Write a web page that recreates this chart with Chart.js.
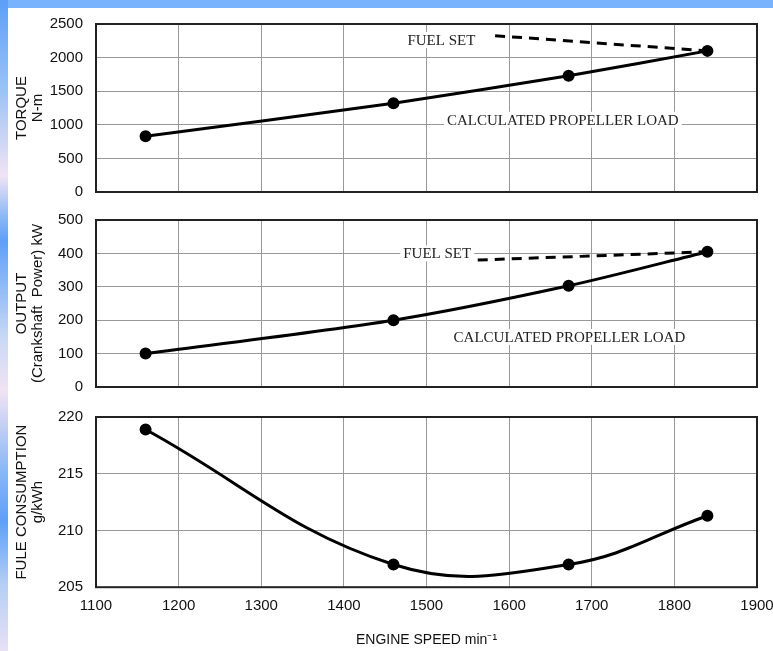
<!DOCTYPE html>
<html>
<head>
<meta charset="utf-8">
<script src="https://cdn.jsdelivr.net/npm/chart.js@4.4.1/dist/chart.umd.min.js"></script>
<style>
  body { margin: 0; width: 773px; height: 651px; overflow: hidden; background: #fff; position: relative; }
  #topbar { position: absolute; left: 0; top: 0; width: 773px; height: 8px; background: #7ab3fd; }
  #sidebar { position: absolute; left: 0; top: 0; width: 8px; height: 651px;
    background: linear-gradient(to bottom, #5d9ef9 0%, #9cc3f6 14%, #f1e3f4 27%, #8fbaf6 33%, #5f9ff9 37%, #c9d9f4 52%, #f1e3f4 60%, #8cb8f6 72%, #5f9ff9 80%, #b6cff4 90%, #e8e1f4 100%); }
  canvas { position: absolute; left: 0; }
</style>
</head>
<body>
<div id="topbar"></div>
<div id="sidebar"></div>
<canvas id="torqueChart" width="773" height="188" style="top:14px"></canvas>
<canvas id="outputChart" width="773" height="187" style="top:210px"></canvas>
<canvas id="fuelChart" width="773" height="244" style="top:407px"></canvas>
<script>
// engine speed (min-1) at the measured points
const speeds = [1160, 1460, 1672, 1840];
const torque = [830, 1320, 1730, 2100];
const output = [100, 200, 303, 405];
const fuelRate = [218.9, 207.0, 207.0, 211.3];

// "fuel set" dashed lines
const torqueFuelSpeeds = [1583, 1840];
const torqueFuelSet = [2326, 2100];
const outputFuelSpeeds = [1562, 1840];
const outputFuelSet = [380, 405];

const speedTicks = [1100, 1200, 1300, 1400, 1500, 1600, 1700, 1800, 1900];
const torqueTicks = [0, 500, 1000, 1500, 2000, 2500];
const outputTicks = [0, 100, 200, 300, 400, 500];
const fuelTicks = [205, 210, 215, 220];

const sans = "'Liberation Sans', Arial, sans-serif";
const serif = "'Liberation Serif', 'Times New Roman', serif";

// frame round the plot area + text labels on white boxes
const panelDecor = {
    id: 'panelDecor',
    beforeDatasetsDraw(chart, args, opts) {
        const ctx = chart.ctx;
        const xs = chart.scales.x, ys = chart.scales.y;
        ctx.save();
        ctx.font = "15px " + serif;
        ctx.textAlign = 'center';
        ctx.textBaseline = 'middle';
        (opts.labels || []).forEach(l => {
            const px = xs.getPixelForValue(l.x), py = ys.getPixelForValue(l.y);
            const w = ctx.measureText(l.text).width;
            ctx.fillStyle = '#fff';
            ctx.fillRect(px - w / 2 - 3, py - 8, w + 6, 16);
            ctx.fillStyle = '#222';
            ctx.fillText(l.text, px, py + 1);
        });
        ctx.restore();
    },
    afterDraw(chart) {
        const a = chart.chartArea, ctx = chart.ctx;
        ctx.save();
        ctx.strokeStyle = '#222';
        ctx.lineWidth = 2;
        ctx.strokeRect(a.left, a.top, a.right - a.left, a.bottom - a.top);
        ctx.restore();
    }
};

function makePanel(id, opt) {
    const datasets = [{
        data: speeds.map((s, i) => ({ x: s, y: opt.values[i] })),
        borderColor: '#000',
        backgroundColor: '#000',
        borderWidth: 3,
        pointRadius: 4.5,
        tension: opt.tension,
        order: 1
    }];
    if (opt.fuelSet) {
        datasets.push({
            data: opt.fuelSpeeds.map((s, i) => ({ x: s, y: opt.fuelSet[i] })),
            borderColor: '#000',
            borderWidth: 3,
            borderDash: [10, 7],
            pointRadius: 0,
            order: 2
        });
    }
    return new Chart(document.getElementById(id), {
        type: 'line',
        data: { datasets },
        plugins: [panelDecor],
        options: {
            responsive: false,
            animation: false,
            layout: { padding: { left: 0, right: 16, top: 10, bottom: opt.bottomPad } },
            plugins: {
                legend: { display: false },
                tooltip: { enabled: false },
                panelDecor: { labels: opt.labels }
            },
            scales: {
                x: {
                    type: 'linear',
                    min: 1100, max: 1900,
                    afterBuildTicks: s => { s.ticks = speedTicks.map(v => ({ value: v })); },
                    afterFit: s => { s.paddingLeft = 0; s.paddingRight = 0; },
                    grid: { color: '#999', lineWidth: 1, drawTicks: false },
                    border: { display: false },
                    ticks: {
                        display: opt.showX,
                        padding: 10,
                        color: '#111',
                        font: { family: sans, size: 15 },
                        callback: v => String(v)
                    },
                    title: {
                        display: opt.showX,
                        text: 'ENGINE SPEED min\u207B\u00B9',
                        color: '#111',
                        font: { family: sans, size: 14 },
                        padding: { top: 7, bottom: 0 }
                    }
                },
                y: {
                    min: opt.min, max: opt.max,
                    afterBuildTicks: s => { s.ticks = opt.ticks.map(v => ({ value: v })); },
                    afterFit: s => { s.width = 96; s.paddingTop = 0; s.paddingBottom = 0; },
                    grid: { color: '#999', lineWidth: 1, drawTicks: false },
                    border: { display: false },
                    ticks: {
                        padding: 13,
                        color: '#111',
                        font: { family: sans, size: 15 },
                        callback: v => String(v)
                    },
                    title: {
                        display: true,
                        text: opt.title,
                        color: '#111',
                        font: { family: sans, size: 15, lineHeight: 16 / 15 },
                        padding: { top: 14, bottom: 0 }
                    }
                }
            }
        }
    });
}

makePanel('torqueChart', {
    values: torque, min: 0, max: 2500, ticks: torqueTicks, tension: 0.15,
    title: ['TORQUE', 'N-m'],
    fuelSpeeds: torqueFuelSpeeds, fuelSet: torqueFuelSet,
    labels: [
        { text: 'FUEL SET', x: 1518, y: 2262 },
        { text: 'CALCULATED PROPELLER LOAD', x: 1665, y: 1075 }
    ],
    showX: false, bottomPad: 10
});

makePanel('outputChart', {
    values: output, min: 0, max: 500, ticks: outputTicks, tension: 0.3,
    title: ['OUTPUT', '(Crankshaft  Power) kW'],
    fuelSpeeds: outputFuelSpeeds, fuelSet: outputFuelSet,
    labels: [
        { text: 'FUEL SET', x: 1513, y: 400 },
        { text: 'CALCULATED PROPELLER LOAD', x: 1673, y: 150 }
    ],
    showX: false, bottomPad: 10
});

makePanel('fuelChart', {
    values: fuelRate, min: 205, max: 220, ticks: fuelTicks, tension: 0.4,
    title: ['FULE CONSUMPTION', 'g/kWh'],
    labels: [],
    showX: true, bottomPad: 2
});
</script>
</body>
</html>
